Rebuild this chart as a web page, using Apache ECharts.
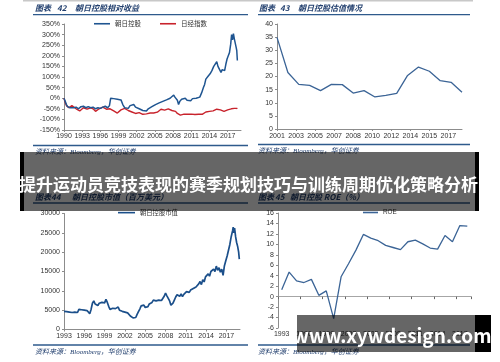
<!DOCTYPE html>
<html><head><meta charset="utf-8">
<script src="https://cdn.jsdelivr.net/npm/echarts@6/dist/echarts.min.js"></script>
<style>html,body{margin:0;padding:0;background:#fff}#c{width:500px;height:362px}</style>
</head><body><div id="c"></div>
<script>
// ---------- Chart 42: relative return (%) ----------
const asahiT = [1990.0,1990.2,1990.4,1990.6,1990.8,1991.0,1991.3,1991.6,1992.0,1992.4,1992.8,1993.2,1993.6,1994.0,1994.4,1994.8,1995.2,1995.6,1996.0,1996.4,1996.8,1997.2,1997.5,1997.7,1997.9,1998.2,1998.5,1998.8,1999.1,1999.4,1999.7,2000.0,2000.3,2000.6,2000.9,2001.2,2001.5,2001.8,2002.1,2002.4,2002.7,2003.0,2003.3,2003.6,2003.9,2004.2,2004.5,2004.8,2005.1,2005.4,2005.7,2006.0,2006.3,2006.6,2006.9,2007.2,2007.5,2007.8,2008.1,2008.3,2008.5,2008.7,2008.9,2009.1,2009.4,2009.7,2010.0,2010.3,2010.6,2010.9,2011.2,2011.5,2011.8,2012.1,2012.4,2012.7,2013.0,2013.2,2013.4,2013.6,2013.8,2014.1,2014.4,2014.7,2015.0,2015.2,2015.4,2015.6,2015.9,2016.1,2016.3,2016.5,2016.7,2016.9,2017.1,2017.3,2017.5,2017.65,2017.8,2017.95,2018.1,2018.25,2018.4,2018.5,2018.6];
const asahiRet = [0,-15,-30,-40,-35,-45,-38,-45,-42,-50,-40,-38,-45,-40,-45,-42,-50,-45,-48,-42,-38,-45,-35,0,-8,-2,-10,-5,-12,-8,-30,-45,-38,-48,-35,-40,-30,-42,-40,-50,-48,-58,-65,-60,-50,-55,-40,-45,-30,-35,-22,-25,-15,-20,-8,-12,0,5,15,5,10,-10,-30,-15,-5,-12,0,-10,-3,-12,-2,-8,0,-5,5,25,50,65,90,85,105,115,130,150,155,172,150,155,122,135,142,130,160,185,200,215,255,300,275,305,280,285,240,225,178];
const nikkeiT = [1990.0,1990.2,1990.4,1990.6,1990.8,1991.0,1991.3,1991.6,1992.0,1992.3,1992.6,1992.9,1993.2,1993.5,1993.8,1994.1,1994.4,1994.8,1995.2,1995.5,1995.8,1996.1,1996.4,1996.7,1997.0,1997.3,1997.6,1997.9,1998.2,1998.5,1998.8,1999.1,1999.4,1999.7,2000.0,2000.3,2000.6,2000.9,2001.2,2001.5,2001.8,2002.1,2002.4,2002.7,2003.0,2003.3,2003.6,2003.9,2004.2,2004.5,2004.8,2005.1,2005.4,2005.7,2006.0,2006.3,2006.6,2006.9,2007.2,2007.5,2007.8,2008.1,2008.4,2008.7,2008.9,2009.2,2009.5,2009.8,2010.1,2010.4,2010.7,2011.0,2011.3,2011.6,2011.9,2012.2,2012.5,2012.8,2013.1,2013.4,2013.7,2014.0,2014.3,2014.6,2014.9,2015.2,2015.5,2015.8,2016.1,2016.4,2016.7,2017.0,2017.3,2017.6,2017.9,2018.1,2018.3,2018.5,2018.6];
const nikkeiRet = [0,-20,-35,-30,-45,-38,-35,-42,-50,-55,-60,-52,-45,-42,-52,-48,-45,-50,-62,-58,-50,-45,-42,-48,-52,-48,-50,-58,-60,-62,-70,-62,-55,-52,-48,-50,-58,-60,-65,-62,-72,-70,-68,-74,-76,-79,-74,-72,-70,-72,-70,-68,-66,-58,-52,-55,-56,-52,-50,-52,-58,-65,-62,-72,-80,-80,-74,-75,-72,-76,-78,-75,-78,-77,-79,-76,-78,-76,-70,-65,-66,-62,-64,-60,-56,-52,-50,-55,-60,-62,-57,-55,-52,-50,-45,-48,-45,-48,-50];

// ---------- Chart 43: valuation (PE) ----------
const peYears = [2001,2002,2003,2004,2005,2006,2007,2008,2009,2010,2011,2012,2013,2014,2015,2016,2017,2018];
const peValues = [34.9,21.5,17.0,16.6,14.6,17.0,16.9,13.7,14.6,12.2,12.8,13.6,20.4,23.6,22.0,18.4,17.8,14.0];
const peTickLabels = ['2001','2003','2005','2007','2008','2010','2012','2014','2015','2017'];

// ---------- Chart 44: market cap (USD mn) ----------
const capT = [1993.0,1993.2,1993.4,1993.6,1993.8,1994.0,1994.2,1994.4,1994.6,1994.8,1995.0,1995.2,1995.4,1995.6,1995.8,1996.0,1996.2,1996.4,1996.6,1996.8,1997.0,1997.2,1997.4,1997.6,1997.8,1998.0,1998.2,1998.4,1998.6,1998.8,1999.0,1999.2,1999.4,1999.6,1999.8,2000.0,2000.2,2000.4,2000.6,2000.8,2001.0,2001.2,2001.4,2001.6,2001.8,2002.0,2002.2,2002.4,2002.6,2002.8,2003.0,2003.2,2003.4,2003.6,2003.8,2004.0,2004.2,2004.4,2004.6,2004.8,2005.0,2005.2,2005.4,2005.6,2005.8,2006.0,2006.2,2006.4,2006.6,2006.8,2007.0,2007.2,2007.4,2007.6,2007.8,2008.0,2008.2,2008.4,2008.6,2008.8,2008.9,2009.1,2009.3,2009.5,2009.7,2009.9,2010.1,2010.3,2010.5,2010.7,2010.9,2011.1,2011.3,2011.5,2011.7,2011.9,2012.1,2012.3,2012.5,2012.7,2012.9,2013.1,2013.3,2013.5,2013.7,2013.9,2014.1,2014.3,2014.5,2014.7,2014.9,2015.1,2015.3,2015.5,2015.7,2015.9,2016.1,2016.3,2016.5,2016.7,2016.9,2017.1,2017.3,2017.5,2017.7,2017.9,2018.0,2018.1,2018.2,2018.35,2018.5,2018.65,2018.8,2018.9];
const capValues = [4700,5100,4600,4800,4500,4700,4400,4800,4500,4600,4400,5200,4900,5100,4800,5000,4700,4900,4500,4100,5200,6800,7400,6600,7100,6200,6800,6300,7000,6500,6900,7800,7000,6000,5200,4800,5500,5000,5400,4900,5800,5000,5300,4700,5100,4500,4900,4300,4000,3500,3200,3000,3300,3100,3900,4600,5300,6100,5600,6300,5700,6200,5900,6600,6200,7000,7600,7100,7400,7000,7600,8000,7500,7900,8600,9400,8700,8200,7400,6300,5800,6800,7600,8400,9000,9400,8600,9200,8500,9100,8700,9800,9300,9600,10200,9900,10600,10100,11000,10600,11800,12400,11600,12900,12300,13600,13200,14400,13800,15000,14600,15600,15000,16400,15300,16000,14800,15600,14000,16500,17800,19000,20500,22000,24000,25500,26500,25000,26200,24000,22500,21500,20000,18200];

// ---------- Chart 45: ROE (%) ----------
const roeYears = ['1993','1994','1995','1996','1997','1998','1999','2000','2001','2002','2003','2004','2005','2006','2007','2008','2009','2010','2011','2012','2013','2014','2015','2016','2017','2018'];
const roeValues = [1.3,4.7,3.0,2.7,3.3,0.25,1.1,-4.2,3.8,6.3,8.9,11.9,11.2,10.7,9.8,9.4,9.0,10.5,10.8,10.1,9.3,9.1,11.7,10.5,13.6,13.5];

const pair = (xs, ys) => xs.map((x, i) => [x, ys[i]]);

const NAVY = '#23406f';
const BLUE = '#1f5591';
const AX = '#8c8c8c';
const LBL = {fontSize: 7, color: '#333', fontFamily: 'Liberation Sans, Arial, sans-serif'};

function yAx(grid, min, max, interval, fmt) {
  return {type: 'value', gridIndex: grid, min, max, interval,
    axisLine: {show: true, lineStyle: {color: AX, width: 1}},
    axisTick: {show: true, length: 2, lineStyle: {color: AX}},
    splitLine: {show: false},
    axisLabel: Object.assign({margin: 4, formatter: fmt || (v => String(v))}, LBL)};
}

const chart = echarts.init(document.getElementById('c'), null, {renderer: 'canvas'});

function hdr(x, y, t, size) {
  return {type: 'text', x, y, z: 50, style: {text: t, fill: NAVY, font: 'italic bold ' + (size || 8) + 'px "Noto Sans CJK SC", sans-serif', textVerticalAlign: 'middle'}};
}
function src(x, y) {
  return {type: 'text', x, y, z: 50, style: {text: '资料来源：Bloomberg，华创证券', fill: NAVY, font: 'italic 7px "Liberation Serif", "Noto Sans CJK SC", serif', textVerticalAlign: 'middle'}};
}
function hline(x1, x2, y, color, w) {
  return {type: 'line', z: 50, shape: {x1, y1: y, x2, y2: y}, style: {stroke: color || '#2e5a8c', lineWidth: w || 1.3}};
}

const option = {
  animation: false,
  backgroundColor: '#fff',
  grid: [
    {left: 64, top: 24, width: 177, height: 106},
    {left: 277, top: 24, width: 185, height: 105},
    {left: 64, top: 213.5, width: 176, height: 116},
    {left: 278, top: 213, width: 193, height: 115}
  ],
  legend: [
    {data: ['朝日控股', '日经指数'], left: 94, top: 20.5, icon: 'rect', itemWidth: 16, itemHeight: 1.6, itemGap: 19, padding: 0,
      textStyle: {fontSize: 6.5, color: '#333', fontFamily: 'Noto Sans CJK SC'}},
    {data: ['朝日控股市值'], left: 118, top: 209.5, icon: 'rect', itemWidth: 17, itemHeight: 1.6, padding: 0,
      textStyle: {fontSize: 6.3, color: '#333', fontFamily: 'Noto Sans CJK SC'}},
    {data: ['ROE'], left: 363, top: 209.5, icon: 'rect', itemWidth: 15, itemHeight: 1.6, padding: 0,
      textStyle: {fontSize: 6.3, color: '#333', fontFamily: 'Liberation Sans'}}
  ],
  xAxis: [
    {type: 'value', gridIndex: 0, min: 1990, max: 2019.2, interval: 3,
      axisLine: {onZero: false, lineStyle: {color: AX}}, axisTick: {length: 2, lineStyle: {color: AX}}, splitLine: {show: false},
      axisLabel: Object.assign({margin: 3, showMaxLabel: false, formatter: v => {const k = (v - 1990) / 3; return Math.abs(k - Math.round(k)) < 1e-6 ? String(Math.round(v)) : '';}}, LBL)},
    {type: 'value', gridIndex: 1, min: 2001, max: 2018, interval: 1.75,
      axisLine: {onZero: false, lineStyle: {color: AX}}, axisTick: {length: 2, lineStyle: {color: AX}}, splitLine: {show: false},
      axisLabel: Object.assign({margin: 4, showMaxLabel: false, formatter: v => {const k = (v - 2001) / 1.75; const r = Math.round(k); return Math.abs(k - r) < 1e-4 && peTickLabels[r] ? peTickLabels[r] : '';}}, LBL)},
    {type: 'value', gridIndex: 2, min: 1993, max: 2019, interval: 3,
      axisLine: {onZero: false, lineStyle: {color: AX}}, axisTick: {length: 2, lineStyle: {color: AX}}, splitLine: {show: false},
      axisLabel: Object.assign({margin: 3, showMaxLabel: false, formatter: v => {const k = (v - 1993) / 3; return Math.abs(k - Math.round(k)) < 1e-6 ? String(Math.round(v)) : '';}}, LBL)},
    {type: 'category', gridIndex: 3, data: roeYears, boundaryGap: true,
      axisLine: {onZero: true, lineStyle: {color: '#a6a6a6', width: 1.2}},
      axisTick: {show: true, interval: 2, length: 2.5, lineStyle: {color: '#666'}},
      axisLabel: {show: false}},
    {type: 'category', gridIndex: 3, data: roeYears, boundaryGap: true, position: 'bottom',
      axisLine: {show: false, onZero: false}, axisTick: {show: false},
      axisLabel: Object.assign({interval: 2, margin: 3}, LBL)}
  ],
  yAxis: [
    yAx(0, -150, 350, 50, v => v + '%'),
    yAx(1, 0, 40, 5),
    yAx(2, 0, 30000, 5000),
    yAx(3, -6, 16, 2)
  ],
  series: [
    {name: '朝日控股', type: 'line', xAxisIndex: 0, yAxisIndex: 0, data: pair(asahiT, asahiRet), showSymbol: false, symbol: 'none',
      lineStyle: {color: BLUE, width: 1.5}, itemStyle: {color: BLUE}, z: 3},
    {name: '日经指数', type: 'line', xAxisIndex: 0, yAxisIndex: 0, data: pair(nikkeiT, nikkeiRet), showSymbol: false, symbol: 'none',
      lineStyle: {color: '#c8232c', width: 1.4}, itemStyle: {color: '#c8232c'}, z: 2},
    {name: 'PE', type: 'line', xAxisIndex: 1, yAxisIndex: 1, data: pair(peYears, peValues), showSymbol: false, symbol: 'none',
      lineStyle: {color: '#3b6496', width: 1.3}},
    {name: '朝日控股市值', type: 'line', xAxisIndex: 2, yAxisIndex: 2, data: pair(capT, capValues), showSymbol: false, symbol: 'none',
      lineStyle: {color: '#1b4f8a', width: 1.7}, itemStyle: {color: '#1b4f8a'}},
    {name: 'ROE', type: 'line', xAxisIndex: 3, yAxisIndex: 3, data: roeValues, showSymbol: false, symbol: 'none',
      lineStyle: {color: '#3b6496', width: 1.3}, itemStyle: {color: '#3b6496'}}
  ],
  graphic: [
    hline(23, 473, 0.8, '#c8c8c8', 1.6),
    hdr(35, 8, '图表'), hdr(57, 8, '42'), hdr(75, 8, '朝日控股相对收益'),
    hdr(259, 8, '图表'), hdr(280, 8, '43'), hdr(298, 8, '朝日控股估值情况'),
    hdr(35, 197, '图表'), hdr(51, 197, '44'), hdr(72, 197, '朝日控股市值（百万美元）'),
    hdr(258, 197, '图表'), hdr(275, 197, '45'), hdr(290, 197, '朝日控股 ROE（%）'),
    hline(33, 248, 14.7), hline(258, 470, 14.7),
    hline(33, 248, 145.5), hline(258, 470, 144.5),
    hline(33, 248, 203), hline(258, 470, 203),
    hline(33, 248, 345), hline(258, 470, 345),
    src(35, 152), src(258, 151), src(35, 352.5), src(258, 352.5),
    // title banner
    {type: 'rect', z: 100, shape: {x: 24, y: 152, width: 451, height: 59}, style: {fill: 'rgba(0,0,0,0.6)'}},
    {type: 'rect', z: 100, shape: {x: 20, y: 152, width: 4, height: 59}, style: {fill: '#000'}},
    {type: 'rect', z: 100, shape: {x: 475, y: 152, width: 4, height: 59}, style: {fill: '#000'}},
    {type: 'text', z: 101, x: 248.5, y: 184.5, style: {text: '提升运动员竞技表现的赛季规划技巧与训练周期优化策略分析', fill: '#fff',
      font: 'bold 17px "Noto Sans CJK SC", sans-serif', textAlign: 'center', textVerticalAlign: 'middle'}},
    // watermark
    {type: 'rect', z: 100, shape: {x: 297, y: 315, width: 178, height: 37}, style: {fill: 'rgba(0,0,0,0.6)'}},
    {type: 'rect', z: 100, shape: {x: 475, y: 315, width: 16, height: 37}, style: {fill: '#000'}},
    {type: 'text', z: 101, x: 392, y: 335.5, style: {text: 'www.xywdesign.com', fill: '#fff',
      font: 'bold 19px "Noto Sans CJK SC", sans-serif', textAlign: 'center', textVerticalAlign: 'middle'}}
  ]
};
chart.setOption(option);
</script></body></html>
